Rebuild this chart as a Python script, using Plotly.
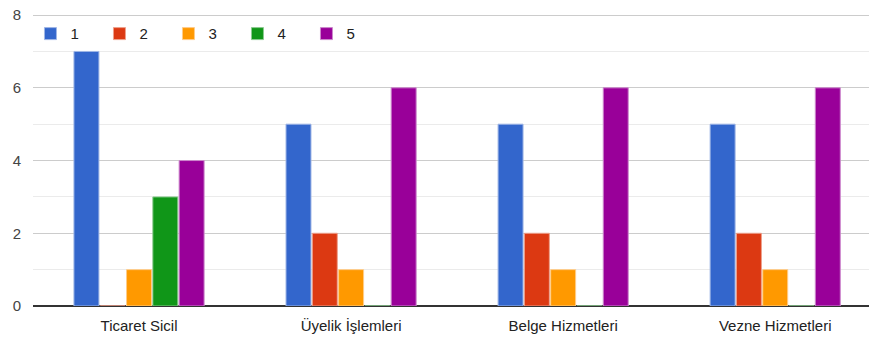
import plotly.graph_objects as go

categories = ["Ticaret Sicil", "Üyelik İşlemleri", "Belge Hizmetleri", "Vezne Hizmetleri"]
series_names = ["1", "2", "3", "4", "5"]
values_1 = [7, 5, 5, 5]
values_2 = [0, 2, 2, 2]
values_3 = [1, 1, 1, 1]
values_4 = [3, 0, 0, 0]
values_5 = [4, 6, 6, 6]

colors = ["#3366cc", "#dc3912", "#ff9900", "#109618", "#990099"]
edges = ["#9fb6e6", "#eea08c", "#ffcc88", "#8ccb90", "#cc88cc"]

fig = go.Figure()
for name, vals, col, edge in zip(series_names, [values_1, values_2, values_3, values_4, values_5], colors, edges):
    fig.add_trace(go.Bar(
        x=categories, y=vals, name=name,
        marker=dict(color=col, line=dict(color=edge, width=1)),
    ))

# page body has an 8px margin, so the figure is a bit smaller than the window
fig.update_layout(
    width=869, height=332,
    margin=dict(l=25, r=0, t=6, b=34),
    barmode="group",
    bargap=0.38,
    bargroupgap=0.05,
    plot_bgcolor="white",
    paper_bgcolor="white",
    font=dict(family="Liberation Sans, Arial, sans-serif", size=15, color="#222222"),
    legend=dict(
        orientation="h", x=-0.003, xanchor="left", y=0.932, yanchor="middle",
        bgcolor="rgba(255,255,255,0)", font=dict(size=15, color="#222222"),
        entrywidth=24, entrywidthmode="pixels",
    ),
    xaxis=dict(range=[-0.5, 3.48], showgrid=False, ticks="", showline=False,
               automargin=False, ticklabelstandoff=9,
               tickfont=dict(size=15, color="#222222")),
    yaxis=dict(range=[0, 8.03], tickvals=[0, 2, 4, 6, 8], gridcolor="#cccccc", gridwidth=1,
               zeroline=True, zerolinecolor="#333333", zerolinewidth=1.5,
               automargin=False, ticklabeloverflow="allow",
               tickfont=dict(size=15, color="#444444"), ticklabelstandoff=11,
               minor=dict(tickvals=[1, 3, 5, 7], showgrid=True, gridcolor="#ebebeb", gridwidth=1)),
)

fig.write_html("out.html")
